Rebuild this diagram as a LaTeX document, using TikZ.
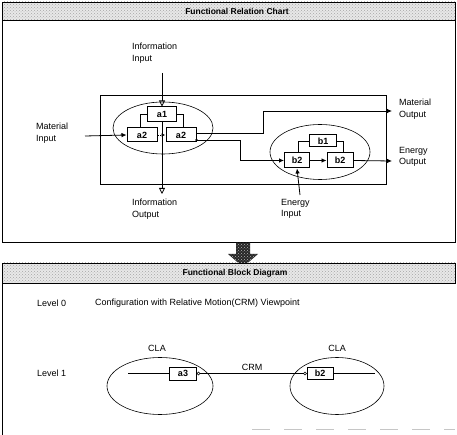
\documentclass[tikz,border=0pt]{standalone}
\usepackage{fontspec}
\setmainfont{Liberation Sans}
\usetikzlibrary{arrows.meta,patterns,shapes.geometric}
\begin{document}
\begin{tikzpicture}[x=1pt,y=-1pt,
  lbl/.style={font=\fontsize{9}{11.5}\selectfont, align=left, inner sep=0pt},
  ttl/.style={font=\fontsize{8.5}{10}\selectfont\bfseries, inner sep=1pt},
  blk/.style={draw, line width=1pt, font=\fontsize{9}{10}\selectfont\bfseries, inner sep=0pt, minimum height=#1},
  blk/.default=14pt,
  oval/.style={draw, ellipse, inner sep=0pt, line width=0.6pt},
  wire/.style={line width=0.8pt},
  farr/.style={wire, -{Latex[length=5pt,width=4.5pt]}},
  oarr/.style={wire, -{Triangle[open,length=6pt,width=6pt]}},
  hdr/.style={pattern=crosshatch dots, pattern color=gray!70}]
\useasboundingbox (0,0) rectangle (457,435);

% ---------- top panel ----------
\fill[gray!18] (2,2) rectangle (455,20);
\fill[hdr] (2,2) rectangle (455,20);
\draw[line width=0.7pt] (2,2) rectangle (455,242);
\draw[line width=0.7pt] (2,20) -- (455,20);
\node[ttl] (t1) at (237,11) {Functional Relation Chart};

% inner frame
\draw[line width=0.7pt] (100,95) rectangle (386,184);

% ellipses
\node[oval, minimum width=100pt, minimum height=52pt] (ea) at (163,128) {};
\node[oval, minimum width=100pt, minimum height=55pt] (eb) at (320,152) {};

% blocks
\node[blk, minimum width=29pt, minimum height=15pt] (a1) at (162,114.5) {a1};
\node[blk, minimum width=30pt] (a2l) at (142,135) {a2};
\node[blk, minimum width=30pt] (a2r) at (181,135) {a2};
\node[blk, minimum width=27pt, minimum height=12pt] (b1) at (323,141) {b1};
\node[blk, minimum width=25pt, minimum height=15pt] (b2l) at (297,160.5) {b2};
\node[blk, minimum width=26pt, minimum height=15pt] (b2r) at (340,160.5) {b2};

% labels
\node[lbl, anchor=west] (infoin) at (132,53) {Information\\Input};
\node[lbl, anchor=west] (matin) at (36,133) {Material\\Input};
\node[lbl, anchor=west] (infoout) at (132,209) {Information\\Output};
\node[lbl, anchor=west] (enin) at (281,209) {Energy\\Input};
\node[lbl, anchor=west] (matout) at (399,109) {Material\\Output};
\node[lbl, anchor=west] (enout) at (399,157) {Energy\\Output};

% free ends
\coordinate (ii) at (162,73);
\coordinate (mi) at (85,136);
\coordinate (io) at (162,194);
\coordinate (mo) at (392,111);
\coordinate (eo) at (392,161);
\coordinate (ei) at (300,195);

% connectors in ellipse A
\draw[oarr] (ii) -- (a1.north);
\draw[farr] (mi) -- (a2l.west);
\draw[wire] (a1.west) -| ([xshift=-2pt]a2l.north);
\draw[wire] (a1.east) -| ([xshift=2pt]a2r.north);
\draw[wire, dotted, -{Latex[length=4pt,width=3.5pt]}] (a2l.east) -- (a2r.west);
\draw[oarr] (a1.south) -- (io);

% routes out of a2
\draw[farr] ([yshift=2pt]a2r.east) -- (263,133) -- (263,111) -- (mo);
\fill ([yshift=-5pt]a2r.east) circle (1.4pt);
\draw[farr] ([yshift=-5pt]a2r.east) -- (240,140) -- (240,160.5) -- (b2l.west);

% connectors in ellipse B
\draw[wire] (b1.west) -| ([xshift=1pt]b2l.north);
\draw[wire] (b1.east) -| ([xshift=3pt]b2r.north);
\draw[farr] (b2l.east) -- (b2r.west);
\draw[farr] (b2r.east) -- (eo);
\draw[farr] (ei) -- (b2l.south);

% big arrow between panels
\fill[gray!30!black] (236,243) -- (250,243) -- (250,254) -- (258,254) -- (243,267) -- (228,254) -- (236,254) -- cycle;
\fill[pattern=crosshatch dots, pattern color=gray!60] (236,243) -- (250,243) -- (250,254) -- (258,254) -- (243,267) -- (228,254) -- (236,254) -- cycle;

% ---------- bottom panel ----------
\fill[gray!18] (2,263) rectangle (455,283);
\fill[hdr] (2,263) rectangle (455,283);
\draw[line width=0.7pt] (2,263) rectangle (455,283);
\draw[line width=0.7pt] (2,283) -- (2,435);
\node[ttl] (t2) at (235,273) {Functional Block Diagram};

\node[lbl, anchor=west] (lv0) at (37,303) {Level 0};
\node[lbl, anchor=west] (cfg) at (95,303) {Configuration with Relative Motion(CRM) Viewpoint};
\node[lbl, anchor=west] (lv1) at (37,373) {Level 1};

\node[oval, minimum width=106pt, minimum height=57pt] (cl) at (160,386) {};
\node[oval, minimum width=94pt, minimum height=57pt] (cr) at (337,386) {};
\node[lbl] (cla1) at (157,348) {CLA};
\node[lbl] (cla2) at (337,348) {CLA};
\node[lbl] (crm) at (252,367) {CRM};

\node[blk, minimum width=27pt, minimum height=13pt] (a3) at (183,373.5) {a3};
\node[blk, minimum width=26pt, minimum height=12pt] (b2) at (320,373.5) {b2};
\coordinate (l1) at (128,373.5);
\coordinate (r1) at (375,373.5);
\draw[wire] (l1) -- (a3.west);
\draw[wire] ([xshift=3pt]a3.east) -- ([xshift=-3pt]b2.west);
\draw[line width=0.6pt] ([xshift=1.5pt]a3.east) circle (1.5pt);
\draw[line width=0.6pt] ([xshift=-1.5pt]b2.west) circle (1.5pt);
\draw[wire] (b2.east) -- (r1);

% faint marks at the bottom
\draw[gray!45, line width=0.8pt, dash pattern=on 18pt off 14pt] (252,429) -- (455,429);
\end{tikzpicture}
\end{document}
